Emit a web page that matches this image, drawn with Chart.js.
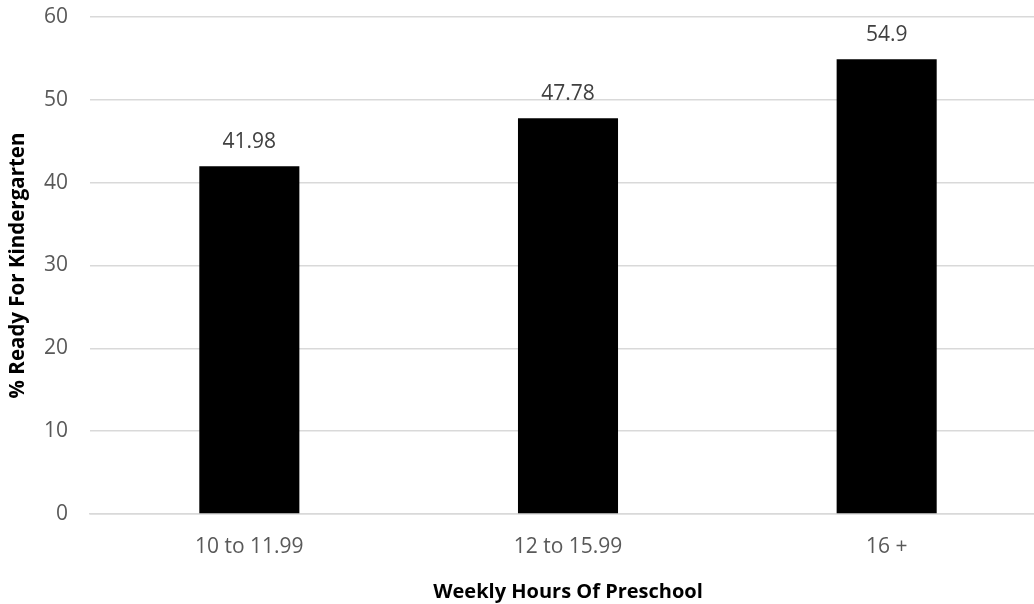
<!DOCTYPE html>
<html>
<head>
<meta charset="utf-8">
<script src="https://cdn.jsdelivr.net/npm/chart.js@4"></script>
<style>
  html, body { margin: 0; padding: 0; background: #fff; overflow: hidden; }
  .wrap { position: relative; width: 1046px; height: 604px; }
</style>
</head>
<body>
<div class="wrap"><canvas id="readyChart"></canvas></div>
<script>
const categories = ['10 to 11.99', '12 to 15.99', '16 +'];
const readyPct   = [41.98, 47.78, 54.9];
const yTicks     = [0, 10, 20, 30, 40, 50, 60];

Chart.defaults.font.family = "'Open Sans', sans-serif";

// value labels above each bar
const barLabels = {
  id: 'barLabels',
  afterDatasetsDraw(chart) {
    const { ctx } = chart;
    const meta = chart.getDatasetMeta(0);
    ctx.save();
    ctx.font = "21px 'Open Sans', sans-serif";
    ctx.fillStyle = '#404040';
    ctx.textAlign = 'center';
    ctx.textBaseline = 'middle';
    meta.data.forEach((bar, i) => {
      ctx.fillText(String(readyPct[i]), bar.x, bar.y - 24);
    });
    ctx.restore();
  }
};

new Chart(document.getElementById('readyChart'), {
  type: 'bar',
  data: {
    labels: categories,
    datasets: [{ data: readyPct, backgroundColor: '#000000',
      barPercentage: 0.314, categoryPercentage: 1 }]
  },
  options: {
    responsive: true, maintainAspectRatio: false, animation: false,
    layout: { padding: { top: 17, right: 0, left: 0, bottom: 0 } },
    plugins: { legend: { display: false }, tooltip: { enabled: false } },
    scales: {
      x: {
        grid: { display: false },
        border: { display: true, color: '#d9d9d9', width: 1.5 },
        ticks: { color: '#595959', font: { size: 21 }, padding: 12, maxRotation: 0 },
        title: { display: true, text: 'Weekly Hours Of Preschool', color: '#000',
          font: { size: 20, weight: 'bold' }, padding: { top: 0, bottom: 0 } },
        afterFit: s => { s.height = 90; s.paddingLeft = 0; s.paddingRight = 0; }
      },
      y: {
        min: 0, max: 60,
        afterBuildTicks: s => { s.ticks = yTicks.map(v => ({ value: v })); },
        grid: { color: '#d9d9d9', lineWidth: 1.5, drawTicks: false },
        border: { display: false },
        ticks: { color: '#595959', font: { size: 21 }, padding: 22 },
        title: { display: true, text: '% Ready For Kindergarten', color: '#000',
          font: { size: 20.5, weight: 'bold' }, padding: { top: 6, bottom: 0 } },
        afterFit: s => { s.width = 90; s.paddingTop = 0; s.paddingBottom = 0; }
      }
    }
  },
  plugins: [barLabels]
});
</script>
</body>
</html>
